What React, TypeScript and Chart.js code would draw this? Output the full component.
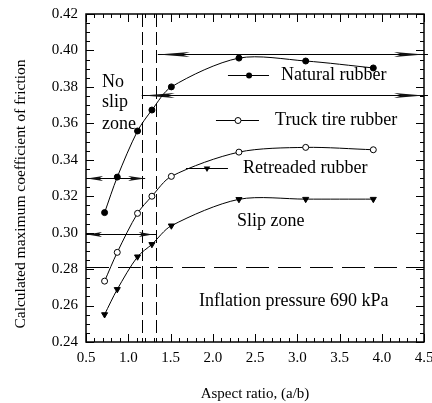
import React, { useEffect, useRef } from 'react';
import { Chart, registerables } from 'chart.js';

Chart.register(...registerables);

const FONT = '"Liberation Serif", "Times New Roman", Times, serif';

// ---- Data ----
const aspectRatio = [0.72, 0.87, 1.11, 1.28, 1.51, 2.31, 3.1, 3.9];
const naturalRubber = [0.311, 0.3305, 0.3558, 0.3673, 0.38, 0.3958, 0.3942, 0.3904];
const truckTireRubber = [0.2734, 0.2892, 0.3106, 0.32, 0.3309, 0.3442, 0.3468, 0.3455];
const retreadedRubber = [0.2551, 0.2689, 0.2868, 0.2936, 0.3038, 0.3183, 0.3184, 0.3184];

const xTicksMajor = [0.5, 1.0, 1.5, 2.0, 2.5, 3.0, 3.5, 4.0, 4.5];
const yTicksMajor = [0.24, 0.26, 0.28, 0.3, 0.32, 0.34, 0.36, 0.38, 0.4, 0.42];

// zone boundaries (vertical dashed lines) and the dashed reference level
const zoneBounds = [1.16, 1.325];
const referenceLevel = [0.281];

// horizontal arrowed range lines
const arrowLevels = [0.398, 0.3755, 0.33, 0.2995];
const arrowStarts = [1.35, 1.16, 0.5, 0.5];
const arrowEnds = [4.5, 4.5, 1.2, 1.33];

function drawDownTriangle(ctx: CanvasRenderingContext2D, cx: number, cy: number, r: number) {
  ctx.beginPath();
  ctx.moveTo(cx, cy + r);
  ctx.lineTo(cx - r * 0.95, cy - r * 0.6);
  ctx.lineTo(cx + r * 0.95, cy - r * 0.6);
  ctx.closePath();
  ctx.fill();
}

function drawHead(ctx: CanvasRenderingContext2D, tipX: number, y: number, dir: number, len: number) {
  // dir = -1 points left, +1 points right
  ctx.beginPath();
  ctx.moveTo(tipX, y);
  ctx.lineTo(tipX - dir * len, y - 2.5);
  ctx.lineTo(tipX - dir * len * 0.75, y);
  ctx.lineTo(tipX - dir * len, y + 2.5);
  ctx.closePath();
  ctx.fill();
}

const decorPlugin = {
  id: 'decor',
  beforeDatasetsDraw(chart: any) {
    const { ctx, chartArea: a, scales } = chart;
    const x = scales.x;
    const y = scales.y;
    ctx.save();
    ctx.strokeStyle = '#000';
    ctx.fillStyle = '#111';
    ctx.lineWidth = 1;
    // vertical dashed
    ctx.setLineDash([13, 5]);
    zoneBounds.forEach((v) => {
      const px = Math.round(x.getPixelForValue(v)) + 0.5;
      ctx.beginPath();
      ctx.moveTo(px, a.top);
      ctx.lineTo(px, a.bottom);
      ctx.stroke();
    });
    // horizontal dashed
    ctx.setLineDash([23, 9]);
    referenceLevel.forEach((v) => {
      const py = Math.round(y.getPixelForValue(v)) + 0.5;
      ctx.beginPath();
      ctx.moveTo(a.left, py);
      ctx.lineTo(a.right, py);
      ctx.stroke();
    });
    ctx.setLineDash([]);
    // arrow lines
    ctx.lineWidth = 1.2;
    arrowLevels.forEach((lv, i) => {
      const py = Math.round(y.getPixelForValue(lv)) + 0.5;
      const x0 = x.getPixelForValue(arrowStarts[i]);
      let x1 = x.getPixelForValue(arrowEnds[i]);
      if (arrowEnds[i] >= 4.5) x1 += 4;
      ctx.beginPath();
      ctx.moveTo(x0, py);
      ctx.lineTo(x1, py);
      ctx.stroke();
    });
    const py = (i: number) => Math.round(y.getPixelForValue(arrowLevels[i])) + 0.5;
    drawHead(ctx, x.getPixelForValue(arrowStarts[0]), py(0), -1, 32);
    drawHead(ctx, x.getPixelForValue(arrowEnds[0]), py(0), 1, 30);
    drawHead(ctx, x.getPixelForValue(arrowStarts[1]) + 1, py(1), -1, 32);
    drawHead(ctx, x.getPixelForValue(arrowEnds[1]), py(1), 1, 30);
    drawHead(ctx, x.getPixelForValue(arrowStarts[2]) + 1, py(2), -1, 16);
    drawHead(ctx, x.getPixelForValue(arrowEnds[2]), py(2), 1, 17);
    drawHead(ctx, x.getPixelForValue(arrowStarts[3]) + 1, py(3), -1, 15);
    drawHead(ctx, x.getPixelForValue(1.29), py(3), 1, 14);
    ctx.restore();
  },
  afterDatasetsDraw(chart: any) {
    const { ctx, chartArea: a, scales } = chart;
    const x = scales.x;
    const y = scales.y;
    ctx.save();
    // frame
    ctx.strokeStyle = '#000';
    ctx.lineWidth = 1.5;
    ctx.strokeRect(a.left, a.top, a.right - a.left, a.bottom - a.top);
    // inner ticks
    ctx.lineWidth = 1;
    ctx.beginPath();
    for (let i = 0; i <= 40; i++) {
      const v = 0.5 + i * 0.1;
      const len = i % 5 === 0 ? 8 : 4;
      const px = Math.round(x.getPixelForValue(v)) + 0.5;
      ctx.moveTo(px, a.bottom);
      ctx.lineTo(px, a.bottom - len);
      ctx.moveTo(px, a.top);
      ctx.lineTo(px, a.top + len);
    }
    for (let i = 0; i <= 36; i++) {
      const v = 0.24 + i * 0.005;
      const len = i % 4 === 0 ? 8 : 4;
      const pyy = Math.round(y.getPixelForValue(v)) + 0.5;
      ctx.moveTo(a.left, pyy);
      ctx.lineTo(a.left + len, pyy);
      ctx.moveTo(a.right, pyy);
      ctx.lineTo(a.right - len, pyy);
    }
    ctx.stroke();

    // annotations
    ctx.fillStyle = '#000';
    ctx.font = `18px ${FONT}`;
    ctx.textBaseline = 'middle';
    ctx.textAlign = 'left';
    const T = (s: string, vx: number, vy: number) =>
      ctx.fillText(s, x.getPixelForValue(vx), y.getPixelForValue(vy));
    T('No', 0.69, 0.3827);
    T('slip', 0.69, 0.3717);
    T('zone', 0.69, 0.3596);
    T('Natural rubber', 2.808, 0.3865);
    T('Truck tire rubber', 2.737, 0.3618);
    T('Retreaded rubber', 2.358, 0.3355);
    T('Slip zone', 2.287, 0.3064);
    T('Inflation pressure 690 kPa', 1.837, 0.2625);

    // legend samples
    ctx.lineWidth = 1;
    const sample = (x0: number, x1: number, vy: number) => {
      const pyy = Math.round(y.getPixelForValue(vy)) + 0.5;
      ctx.beginPath();
      ctx.moveTo(x.getPixelForValue(x0), pyy);
      ctx.lineTo(x.getPixelForValue(x1), pyy);
      ctx.stroke();
      return pyy;
    };
    let p = sample(2.18, 2.666, 0.3865);
    ctx.beginPath();
    ctx.arc(x.getPixelForValue(2.43), p, 3, 0, Math.PI * 2);
    ctx.fill();
    p = sample(2.038, 2.547, 0.3618);
    ctx.beginPath();
    ctx.arc(x.getPixelForValue(2.299), p, 3, 0, Math.PI * 2);
    ctx.fillStyle = '#fff';
    ctx.fill();
    ctx.stroke();
    ctx.fillStyle = '#000';
    p = sample(1.683, 2.18, 0.3355);
    drawDownTriangle(ctx, x.getPixelForValue(1.932), p, 3.5);

    // y axis title
    ctx.save();
    ctx.translate(21, 194);
    ctx.rotate(-Math.PI / 2);
    ctx.textAlign = 'center';
    ctx.textBaseline = 'middle';
    ctx.font = `15.5px ${FONT}`;
    ctx.fillText('Calculated maximum coefficient of friction', 0, 0);
    ctx.restore();
    ctx.restore();
  },
};

export default function App() {
  const ref = useRef<HTMLCanvasElement>(null);
  useEffect(() => {
    if (!ref.current) return;
    const pts = (ys: number[]) => aspectRatio.map((xv, i) => ({ x: xv, y: ys[i] }));
    const common = {
      showLine: true,
      borderColor: '#000',
      borderWidth: 1,
      tension: 0.3,
      pointBorderColor: '#000',
      pointBorderWidth: 1,
    };
    const chart = new Chart(ref.current, {
      type: 'scatter',
      data: {
        datasets: [
          {
            ...common,
            label: 'Natural rubber',
            data: pts(naturalRubber),
            pointStyle: 'circle',
            pointRadius: 3,
            pointBackgroundColor: '#000',
          },
          {
            ...common,
            label: 'Truck tire rubber',
            data: pts(truckTireRubber),
            pointStyle: 'circle',
            pointRadius: 3,
            pointBackgroundColor: '#fff',
          },
          {
            ...common,
            label: 'Retreaded rubber',
            data: pts(retreadedRubber),
            pointStyle: 'triangle',
            rotation: 180,
            pointRadius: 3.5,
            pointBackgroundColor: '#000',
          },
        ],
      } as any,
      options: {
        animation: false,
        responsive: false,
        devicePixelRatio: 1,
        layout: { padding: { left: 0, right: 8, top: 14, bottom: 0 } },
        plugins: { legend: { display: false }, tooltip: { enabled: false } },
        scales: {
          x: {
            type: 'linear',
            min: 0.5,
            max: 4.5,
            grid: { display: false, drawTicks: false },
            border: { display: false },
            afterBuildTicks: (s: any) => {
              s.ticks = xTicksMajor.map((v) => ({ value: v }));
            },
            ticks: {
              callback: (v: any) => Number(v).toFixed(1),
              font: { family: FONT, size: 15 },
              color: '#000',
              padding: 7,
              maxRotation: 0,
              autoSkip: false,
            },
            title: {
              display: true,
              text: 'Aspect ratio, (a/b)',
              font: { family: FONT, size: 15 },
              color: '#000',
              padding: { top: 0, bottom: 0 },
            },
            afterFit: (s: any) => {
              s.height = 61;
              s.paddingLeft = 0;
              s.paddingRight = 0;
            },
          },
          y: {
            type: 'linear',
            min: 0.24,
            max: 0.42,
            grid: { display: false, drawTicks: false },
            border: { display: false },
            afterBuildTicks: (s: any) => {
              s.ticks = yTicksMajor.map((v) => ({ value: v }));
            },
            ticks: {
              callback: (v: any) => Number(v).toFixed(2),
              font: { family: FONT, size: 15 },
              color: '#000',
              padding: 8,
              autoSkip: false,
            },
            afterFit: (s: any) => {
              s.width = 86;
              s.paddingTop = 0;
              s.paddingBottom = 0;
            },
          },
        },
      } as any,
      plugins: [decorPlugin],
    });
    return () => chart.destroy();
  }, []);
  return (
    <div style={{ position: 'absolute', left: 0, top: 0, width: 432, height: 403, background: '#fff' }}>
      <canvas ref={ref} width={432} height={403} style={{ display: 'block' }} />
    </div>
  );
}
